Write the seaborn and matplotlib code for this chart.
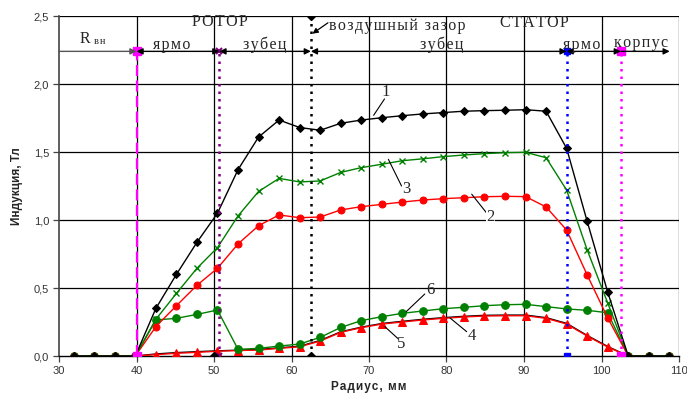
import matplotlib
matplotlib.use("Agg")
import matplotlib.pyplot as plt
import numpy as np
import pandas as pd
import seaborn as sns

# Radius of the sample points, mm
radius = [31.9, 34.55, 37.2, 39.85, 42.5, 45.15, 47.8, 50.45, 53.1, 55.75,
          58.4, 61.05, 63.7, 66.35, 69.0, 71.65, 74.3, 76.95, 79.6, 82.25,
          84.9, 87.55, 90.2, 92.85, 95.5, 98.15, 100.8, 103.45, 106.1, 108.75]

# Induction, T, for each curve
curve1 = [0, 0, 0, 0, 0.35, 0.60, 0.836, 1.05, 1.37, 1.61,
          1.735, 1.68, 1.66, 1.711, 1.735, 1.752, 1.767, 1.78, 1.79, 1.80,
          1.804, 1.807, 1.811, 1.80, 1.527, 0.99, 0.47, 0, 0, 0]
curve2 = [0, 0, 0, 0, 0.216, 0.37, 0.52, 0.645, 0.824, 0.958,
          1.037, 1.017, 1.022, 1.074, 1.098, 1.115, 1.132, 1.147, 1.157, 1.164,
          1.171, 1.174, 1.172, 1.096, 0.926, 0.596, 0.28, 0, 0, 0]
curve3 = [0, 0, 0, 0, 0.27, 0.46, 0.645, 0.797, 1.03, 1.21,
          1.306, 1.28, 1.287, 1.35, 1.385, 1.41, 1.436, 1.45, 1.466, 1.478,
          1.488, 1.495, 1.498, 1.458, 1.22, 0.78, 0.39, 0, 0, 0]
curve4 = [0, 0, 0, 0, 0.015, 0.025, 0.032, 0.038, 0.043, 0.048,
          0.06, 0.072, 0.114, 0.178, 0.212, 0.239, 0.255, 0.27, 0.282, 0.292,
          0.299, 0.301, 0.301, 0.282, 0.24, 0.151, 0.07, 0, 0, 0]
curve5 = [0, 0, 0, 0, 0.01, 0.02, 0.027, 0.035, 0.04, 0.044,
          0.056, 0.068, 0.11, 0.174, 0.208, 0.235, 0.25, 0.265, 0.277, 0.287,
          0.294, 0.296, 0.296, 0.277, 0.235, 0.147, 0.066, 0, 0, 0]
curve6 = [0, 0, 0, 0, 0.265, 0.277, 0.306, 0.338, 0.049, 0.056,
          0.073, 0.088, 0.137, 0.21, 0.26, 0.289, 0.314, 0.331, 0.348, 0.358,
          0.37, 0.377, 0.38, 0.363, 0.346, 0.336, 0.318, 0, 0, 0]

curve_names = ["1", "2", "3", "4", "5", "6"]

# Zone boundaries, mm, and the level of the zone arrows, T
boundaries = [40.0, 50.7, 62.5, 95.5, 102.5]
arrow_level = 2.24

x_ticks = [30, 40, 50, 60, 70, 80, 90, 100, 110]
y_ticks = [0.0, 0.5, 1.0, 1.5, 2.0, 2.5]
y_tick_labels = ["0,0", "0,5", "1,0", "1,5", "2,0", "2,5"]

sns.set_style("white")
plt.rcParams["font.family"] = ["Liberation Sans", "DejaVu Sans"]

HAIR = "\u200a"


def spaced(s):
    """Widen the letter spacing with hair spaces."""
    return HAIR.join(s)


df = pd.DataFrame({
    "R": radius * 6,
    "B": curve1 + curve2 + curve3 + curve4 + curve5 + curve6,
    "curve": sum([[n] * len(radius) for n in curve_names], []),
})

styles = {
    "1": dict(color="black", marker="D", markersize=4.5, mfc="black", mec="black"),
    "2": dict(color="#FF0000", marker="o", markersize=5, mfc="#FF0000", mec="#FF0000"),
    "3": dict(color="#008000", marker="x", markersize=5, mfc="none", mec="#008000", mew=1.0),
    "4": dict(color="black", marker=None),
    "5": dict(color="#FF0000", marker="^", markersize=5.5, mfc="#FF0000", mec="#FF0000"),
    "6": dict(color="#008000", marker="o", markersize=5.5, mfc="#008000", mec="#008000"),
}

fig = plt.figure(figsize=(6.87, 3.94), dpi=100)
ax = fig.add_axes([59 / 687, 1 - 356 / 394, 620 / 687, 340 / 394])

# grid
for xv in x_ticks[1:-1]:
    ax.axvline(xv, color="black", lw=0.9, zorder=1)
for yv in y_ticks[1:-1]:
    ax.axhline(yv, color="black", lw=0.9, zorder=1)
ax.axhline(2.5, color="black", lw=0.9, zorder=1)
ax.axvline(110, color="black", lw=0.9, zorder=1)

draw_order = ["4", "5", "6", "2", "3", "1"]
for name in draw_order:
    sub = df[df["curve"] == name]
    st = dict(styles[name])
    sns.lineplot(data=sub, x="R", y="B", ax=ax, sort=False, lw=1.0,
                 zorder=3, legend=False, **st)

# zone boundary lines
ax.plot([40.0, 40.0], [0, arrow_level], color="#FF00FF", ls=(0, (5, 2)), lw=1.6,
        marker="s", markersize=6, zorder=4)
ax.plot([50.7, 50.7], [0, arrow_level], color="#800080", ls=(0, (1, 2)), lw=1.8,
        marker="x", markersize=5, mew=1.5, zorder=4)
ax.plot([62.5, 62.5], [0, 2.5], color="black", ls=(0, (1, 2)), lw=1.8,
        marker="D", markersize=4, zorder=4)
ax.plot([95.5, 95.5], [0, arrow_level], color="#0000FF", ls=(0, (1, 2)), lw=1.8,
        marker="s", markersize=4, zorder=4)
ax.plot([102.5, 102.5], [0, arrow_level], color="#FF00FF", ls=(0, (1, 2)), lw=1.8,
        marker="s", markersize=6, zorder=4)
ax.plot([50.0], [0.0], color="black", marker="D", markersize=4, zorder=4)

# zone arrows
arrow_kw = dict(arrowstyle="-|>", color="black", lw=1.0, mutation_scale=9,
                shrinkA=0, shrinkB=0)
ax.annotate("", xy=(40.0, arrow_level), xytext=(30, arrow_level),
            arrowprops=dict(arrow_kw, color="#555555"), zorder=5)
for a, b in zip(boundaries[:-1], boundaries[1:]):
    ax.annotate("", xy=(b, arrow_level), xytext=(a, arrow_level),
                arrowprops=dict(arrow_kw, arrowstyle="<|-|>"), zorder=5)
ax.annotate("", xy=(108.8, arrow_level), xytext=(102.5, arrow_level),
            arrowprops=arrow_kw, zorder=5)

serif = ["Liberation Serif", "DejaVu Serif"]
tkw = dict(family=serif, fontsize=11.5, ha="center", va="center", zorder=6)
ax.text(33.4, 2.33, "R", **tkw)
ax.text(35.2, 2.315, spaced("вн"), family=serif, fontsize=7.5, ha="center", va="center")
ax.text(44.6, 2.285, spaced("ярмо"), **tkw)
ax.text(50.8, 2.455, spaced("РОТОР"), **tkw)
ax.text(56.5, 2.285, spaced("зубец"), **tkw)
ax.text(73.6, 2.43, spaced("воздушный зазор"), **tkw)
ax.text(79.4, 2.285, spaced("зубец"), **tkw)
ax.text(91.3, 2.45, spaced("СТАТОР"), **tkw)
ax.text(97.4, 2.285, spaced("ярмо"), **tkw)
ax.text(105.1, 2.30, spaced("корпус"), **tkw)
ax.annotate("", xy=(62.7, 2.37), xytext=(64.7, 2.45),
            arrowprops=dict(arrowstyle="-|>", color="black", lw=0.9,
                            mutation_scale=8, shrinkA=0, shrinkB=0))

# curve labels with leaders
labels = [
    ("1", (72.15, 1.94), (72.0, 1.89), (70.6, 1.77)),
    ("3", (74.8, 1.226), (74.2, 1.25), (72.5, 1.446)),
    ("2", (85.7, 1.025), (85.2, 1.05), (83.25, 1.19)),
    ("6", (77.9, 0.485), (77.2, 0.456), (74.8, 0.326)),
    ("4", (83.25, 0.15), (82.6, 0.179), (80.45, 0.28)),
    ("5", (74.1, 0.086), (73.8, 0.125), (72.06, 0.215)),
]
for txt, pos, p0, p1 in labels:
    ax.plot([p0[0], p1[0]], [p0[1], p1[1]], color="black", lw=0.8, zorder=5)
    ax.text(pos[0], pos[1], txt, family=serif, fontsize=12, ha="center",
            va="center", zorder=6,
            bbox=dict(facecolor="white", edgecolor="none", pad=0.5) if txt == "2" else None)

ax.set_xlim(30, 110)
ax.set_ylim(0, 2.5)
ax.set_xticks(x_ticks)
ax.set_xticklabels([str(t) for t in x_ticks])
ax.set_yticks(y_ticks)
ax.set_yticklabels(y_tick_labels)
ax.tick_params(axis="both", labelsize=8, length=4, width=0.9, color="#444444",
               labelcolor="#333333", direction="out", left=True, bottom=True, pad=3)
ax.set_xlabel(spaced("Радиус, мм"), fontsize=8.5, fontweight="bold", labelpad=4)
ax.set_ylabel("Индукция, Тл", fontsize=8.5, fontweight="bold", labelpad=8)
for side in ["top", "right"]:
    ax.spines[side].set_visible(False)
ax.spines["left"].set_color("#444444")
ax.spines["bottom"].set_color("black")
ax.spines["left"].set_linewidth(1.2)
ax.spines["bottom"].set_linewidth(1.0)

fig.savefig("out.png", dpi=100)
